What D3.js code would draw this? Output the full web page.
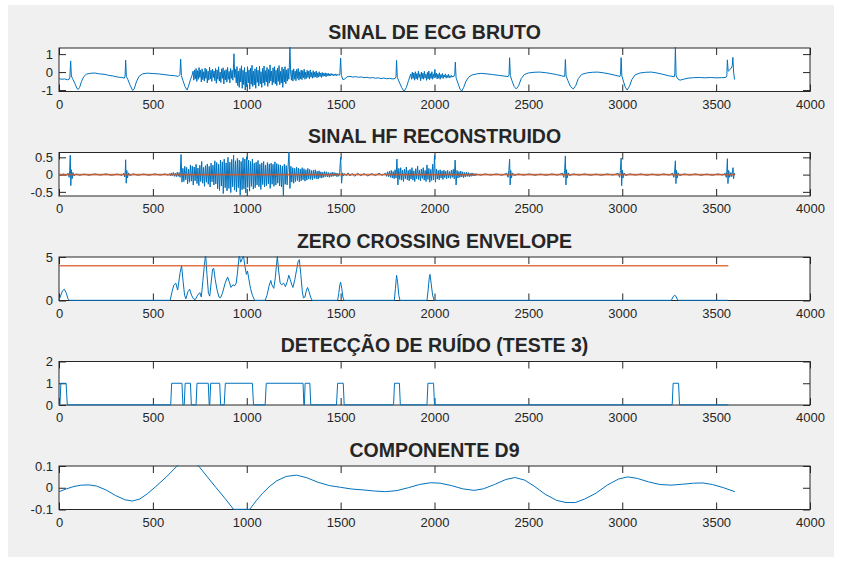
<!DOCTYPE html>
<html>
<head>
<meta charset="utf-8">
<script src="https://cdn.jsdelivr.net/npm/d3@7"></script>
<style>
  body { margin: 0; background: #fff; }
  svg text { font-family: "Liberation Sans", Arial, Helvetica, sans-serif; fill: #262626; }
</style>
</head>
<body>
<svg id="chart" width="842" height="562"></svg>
<script>
// ---------- data ----------
const sampleTicks = [0, 500, 1000, 1500, 2000, 2500, 3000, 3500, 4000];
const titles = ["SINAL DE ECG BRUTO", "SINAL HF RECONSTRUIDO", "ZERO CROSSING ENVELOPE",
                "DETECÇÃO DE RUÍDO (TESTE 3)", "COMPONENTE D9"];

// raw ECG: beats and quiet stretches as [sample, mV]
const ecgBeats = [
  [0,-0.36],[15,-0.4],[30,-0.38],[45,-0.43],[54,-0.4],[58,-0.28],[62,0.62],[66,-0.22],[72,-0.36],[84,-0.62],[96,-0.92],[103,-0.96],[110,-0.85],[120,-0.52],[132,-0.25],[145,-0.12],[165,-0.07],[190,-0.05],[215,-0.1],[240,-0.12],[265,-0.18],[290,-0.22],[315,-0.28],[335,-0.3],[348,-0.34],
  [352,-0.22],[355,0.66],[359,-0.25],[367,-0.42],[380,-0.76],[392,-1.02],[400,-0.95],[412,-0.55],[426,-0.24],[445,-0.1],[470,-0.06],[500,-0.08],[530,-0.1],[560,-0.14],[590,-0.18],[615,-0.2],[635,-0.24],
  [644,-0.14],[648,0.72],[652,-0.2],[660,-0.46],[671,-0.8],[682,-1.0],[690,-0.78],[700,-0.42],[708,-0.2],
  [928,-0.05],[932,1.02],[936,-0.3],
  [1226,0.05],[1230,1.38],[1234,-0.05],
  [1496,-0.08],[1500,0.78],[1504,-0.18],[1512,-0.42],[1522,-0.38],[1535,-0.26],[1550,-0.24],[1565,-0.28],[1580,-0.25],[1595,-0.29],[1610,-0.27],[1625,-0.31],[1640,-0.29],[1655,-0.33],[1670,-0.3],[1685,-0.34],[1700,-0.32],[1715,-0.36],[1730,-0.33],[1745,-0.37],[1760,-0.35],[1775,-0.38],[1790,-0.36],
  [1795,-0.25],[1798,0.65],[1802,-0.3],[1812,-0.55],[1825,-0.86],[1838,-1.07],[1850,-0.86],[1862,-0.46],[1870,-0.22],
  [2104,-0.24],[2108,-0.12],[2111,0.56],[2115,-0.32],[2125,-0.62],[2136,-0.95],[2145,-1.06],[2155,-0.86],[2168,-0.5],[2182,-0.28],[2200,-0.16],[2225,-0.1],[2250,-0.07],[2280,-0.1],[2310,-0.14],[2340,-0.18],[2370,-0.22],[2392,-0.25],
  [2397,-0.15],[2400,0.8],[2404,-0.2],[2412,-0.46],[2424,-0.8],[2436,-0.94],[2448,-0.76],[2462,-0.36],[2478,-0.14],[2500,-0.05],[2530,-0.01],[2560,0.0],[2590,-0.03],[2620,-0.08],[2650,-0.14],[2675,-0.2],[2692,-0.25],
  [2694,-0.15],[2697,0.7],[2701,-0.22],[2710,-0.46],[2724,-0.8],[2739,-0.94],[2752,-0.76],[2766,-0.36],[2784,-0.13],[2810,-0.05],[2840,-0.01],[2870,0.0],[2900,-0.04],[2930,-0.1],[2960,-0.17],[2988,-0.24],
  [2991,-0.14],[2994,0.8],[2998,-0.22],[3006,-0.5],[3016,-0.84],[3026,-1.0],[3038,-0.8],[3052,-0.4],[3068,-0.16],[3095,-0.05],[3125,-0.01],[3155,0.0],[3185,-0.05],[3215,-0.12],[3245,-0.2],[3277,-0.26],
  [3280,-0.1],[3283,1.38],[3287,-0.22],[3296,-0.38],[3308,-0.45],[3325,-0.4],[3350,-0.34],[3380,-0.31],[3410,-0.3],[3440,-0.32],[3470,-0.3],[3500,-0.32],[3530,-0.31],[3552,-0.3],[3557,-0.2],[3560,0.68],[3564,0.05],[3572,0.12],[3580,0.22],[3586,0.35],[3589,0.82],[3593,0.0],[3598,-0.4],[3600,-0.42]
];

// raw ECG: noisy stretches, one value every 4 samples
const ecgNoiseA = [ // from sample 714
  0.05,-0.45,0.12,-0.38,0.2,-0.52,0.08,-0.4,0.25,-0.3,
  0.1,-0.55,0.18,-0.42,0.02,-0.5,0.22,-0.35,0.15,-0.6,
  0.05,-0.45,0.28,-0.38,0.1,-0.52,0.16,-0.3,0.06,-0.48,
  0.2,-0.62,0.12,-0.4,0.3,-0.5,0.0,-0.58,0.18,-0.35,
  0.24,-0.66,0.08,-0.44,0.14,-0.56,0.26,-0.4,0.04,-0.6,
  0.2,-0.35,0.1,-0.45
];
const ecgNoiseB = [ // from sample 940
  0.15,-0.6,0.3,-0.75,0.05,-0.85,0.2,-0.55,0.35,-0.9,
  0.1,-0.7,0.25,-1.0,0.0,-0.82,0.3,-0.6,0.12,-0.95,
  0.22,-0.68,0.38,-0.8,0.05,-0.72,0.18,-0.9,0.28,-0.58,
  0.1,-0.78,0.32,-0.65,0.02,-0.85,0.2,-0.6,0.34,-0.74,
  0.08,-0.55,0.26,-0.8,0.14,-0.62,0.4,-0.5,0.06,-0.72,
  0.24,-0.58,0.3,-0.66,0.1,-0.75,0.22,-0.52,0.36,-0.7,
  0.04,-0.6,0.28,-0.85,0.16,-0.55,0.3,-0.65,0.12,-0.5,
  0.2,-0.4
];
const ecgNoiseC = [ // from sample 1238
  -0.45,0.1,-0.5,0.18,-0.4,0.05,-0.48,0.15,-0.35,0.2,
  -0.45,0.02,-0.38,0.12,-0.42,0.08,-0.32,0.16,-0.4,0.0,
  -0.35,0.1,-0.3,0.05,-0.38,0.12,-0.28,-0.02,-0.34,0.08,
  -0.3,0.0,-0.26,0.06,-0.32,-0.04,-0.28,0.02,-0.25,-0.05,
  -0.3,-0.02,-0.24,-0.06,-0.22,-0.04,-0.26,-0.08,-0.2,-0.06,
  -0.22,-0.1,-0.2,-0.08,-0.18,-0.1,-0.22,-0.12,-0.19,-0.1,
  -0.2,-0.12,-0.18,-0.13,-0.17
];
const ecgNoiseD = [ // from sample 1874
  -0.1,-0.4,0.0,-0.35,-0.05,-0.45,0.02,-0.38,-0.08,-0.42,
  0.05,-0.3,-0.1,-0.48,0.0,-0.36,-0.06,-0.4,0.04,-0.33,
  -0.12,-0.46,-0.02,-0.38,0.06,-0.42,-0.08,-0.35,0.02,-0.4,
  -0.1,-0.32,0.15,-0.3,-0.05,-0.38,-0.12,-0.34,-0.04,-0.4,
  -0.14,-0.3,-0.08,-0.36,-0.16,-0.28,-0.1,-0.34,-0.18,-0.3,
  -0.12,-0.32,-0.2,-0.3,-0.18,-0.28,-0.22
];

// reconstructed high-frequency band: quiet stretches and isolated QRS spikes
const hfQuiet = [
  [0,0.01],[12,-0.02],[25,0.02],[38,-0.03],[48,0.04],[54,-0.08],[57,0.12],[60,0.56],[63,-0.32],[66,0.14],[70,-0.12],[74,0.06],[80,-0.04],[90,0.02],[110,-0.02],[135,0.015],[160,-0.02],[190,0.02],[220,-0.015],[250,0.02],[280,-0.02],[310,0.015],[335,-0.02],[345,0.04],[350,-0.07],[353,0.1],[355,0.43],[358,-0.25],[361,0.12],[365,-0.1],[370,0.05],[378,-0.03],[395,0.02],[420,-0.02],[450,0.015],[480,-0.02],[510,0.02],[540,-0.015],[565,0.02],[582,-0.02],
  [1530,-0.03],[1540,0.05],[1550,-0.04],[1562,0.03],[1575,-0.05],[1590,0.04],[1608,-0.03],[1625,0.03],[1645,-0.04],[1665,0.03],[1685,-0.03],[1705,0.04],[1722,-0.03],[1733,0.03],
  [2245,-0.02],[2270,0.02],[2300,-0.015],[2330,0.02],[2360,-0.02],[2385,0.04],[2392,-0.08],[2396,0.12],[2400,0.45],[2403,-0.3],[2406,0.12],[2410,-0.1],[2415,0.05],[2424,-0.03],[2445,0.02],[2475,-0.015],[2505,0.02],[2535,-0.02],[2565,0.015],[2595,-0.02],[2625,0.02],[2655,-0.015],
  [2682,0.04],[2689,-0.08],[2693,0.12],[2697,0.54],[2700,-0.3],[2703,0.14],[2707,-0.1],[2712,0.05],[2720,-0.03],[2740,0.02],[2770,-0.015],[2800,0.02],[2830,-0.02],[2860,0.015],[2890,-0.02],[2920,0.02],[2950,-0.015],
  [2978,0.04],[2986,-0.08],[2990,0.12],[2994,0.48],[2997,-0.32],[3000,0.13],[3004,-0.1],[3009,0.05],[3018,-0.03],[3040,0.02],[3070,-0.015],[3100,0.02],[3130,-0.02],[3160,0.015],[3190,-0.02],[3220,0.02],[3250,-0.015],
  [3268,0.04],[3275,-0.08],[3279,0.1],[3283,0.4],[3286,-0.26],[3289,0.12],[3293,-0.1],[3298,0.05],[3306,-0.03],[3330,0.02],[3360,-0.015],[3390,0.02],[3420,-0.02],[3450,0.015],[3480,-0.02],[3510,0.02],[3535,-0.015],
  [3548,0.04],[3554,-0.08],[3557,0.1],[3560,0.46],[3563,-0.26],[3567,0.12],[3572,-0.08],[3578,0.06],[3583,-0.06],[3587,0.1],[3590,0.2],[3593,-0.12],[3597,0.04],[3600,0.0]
];
// reconstructed high-frequency band: noisy stretches, one value every 5 samples
const hfNoiseA = [ // from sample 590
  0.03,-0.04,0.05,-0.03,0.06,-0.05,0.04,-0.06,0.07,-0.05,
  0.06,-0.08,0.58,-0.22,0.18,-0.2,0.24,-0.15,0.21,-0.27,
  0.16,-0.22,0.28,-0.19,0.25,-0.3,0.22,-0.18,0.3,-0.26,
  0.19,-0.32,0.27,-0.2,0.38,-0.25,0.21,-0.34,0.26,-0.22,
  0.31,-0.28,0.24,-0.36,0.33,-0.21,0.27,-0.3,0.4,-0.27,
  0.35,-0.41,0.3,-0.46,0.42,-0.33,0.37,-0.55,0.45,-0.38,
  0.34,-0.47,0.5,-0.4,0.36,-0.52,0.44,-0.35,0.56,-0.45,
  0.4,-0.5,0.47,-0.38,0.42,-0.6,0.38,-0.44,0.49,-0.41,
  0.45,-0.53,0.52,-0.37,0.42,-0.48,0.38,-0.34,0.45,-0.42,
  0.33,-0.38,0.36,-0.3,0.41,-0.35,0.3,-0.43,0.34,-0.29,
  0.38,-0.36,0.28,-0.32,0.35,-0.27,0.31,-0.4,0.33,-0.28,
  0.3,-0.34,0.37,-0.3,0.32,-0.25,0.29,-0.33,0.28,-0.36,
  0.25,-0.63,0.3,-0.28,0.26,-0.3,0.22,0.65,-0.4,0.24,
  -0.22,0.2,-0.25,0.18,-0.2,0.22,-0.17,0.19,-0.21,0.16,
  -0.18,0.2,-0.15,0.17,-0.19,0.14,-0.16,0.18,-0.13,0.15,
  -0.14,0.12,-0.15,0.13,-0.11,0.14,-0.12,0.1,-0.13,0.11,
  -0.09,0.08,-0.1,0.07,-0.08,0.09,-0.06,0.08,-0.07,0.06,
  -0.08,0.05,-0.06,0.07,-0.05,0.06,-0.04,0.05,-0.06,0.04,
  -0.05,0.06,0.5,-0.25,0.05,-0.04,0.03
];
const hfNoiseB = [ // from sample 1740
  0.04,-0.05,0.08,-0.06,0.1,-0.08,0.12,-0.1,0.09,-0.12,
  0.14,-0.1,0.45,-0.3,0.18,-0.14,0.2,-0.16,0.13,-0.2,
  0.16,-0.12,0.22,-0.15,0.12,-0.18,0.15,-0.13,0.2,-0.16,
  0.11,-0.2,0.17,-0.12,0.25,-0.14,0.13,-0.18,0.16,-0.11,
  0.2,-0.16,0.12,-0.2,0.28,-0.14,0.18,-0.22,0.15,-0.17,
  0.3,-0.15,0.55,-0.22,0.16,-0.13,0.12,-0.15,0.14,-0.1,
  0.11,-0.14,0.13,-0.09,0.1,-0.12,0.12,-0.1,0.09,-0.11,
  0.13,-0.08,0.15,-0.12,0.42,-0.3,0.12,-0.1,0.09,-0.08,
  0.1,-0.07,0.08,-0.09,0.06,-0.07,0.07,-0.05,0.06,-0.06,
  0.04,-0.05,0.05,-0.04,0.03,-0.04,0.03,-0.02,0.01
];
const hfThreshold = [[0, 0], [3600, 0]];

// zero-crossing envelope and its threshold
const zcEnvelope = [
  [0,0],[8,0.5],[18,1.1],[28,1.3],[38,0.9],[48,0.2],[56,0],[592,0],[602,1.0],[612,1.8],[622,2.0],[632,1.2],[645,3.2],[653,4.0],[661,2.2],[669,0.6],[676,0.2],[686,1.0],[696,1.3],[706,0.6],[716,0.2],[726,0.1],[738,0.6],[750,0.9],[758,0.4],[766,2.2],[774,4.0],[781,5.3],[788,3.0],[796,0.8],[803,0.5],[810,2.0],[818,3.6],[824,3.7],[832,2.4],[842,1.2],[852,0.4],[860,0.3],[870,0.8],[885,2.0],[898,2.7],[906,2.2],[916,1.5],[926,1.8],[936,1.7],[944,2.0],[952,3.5],[960,5.2],[968,4.4],[976,4.8],[982,5.2],[990,4.0],[998,3.0],[1004,3.4],[1010,2.6],[1020,1.4],[1030,0.6],[1040,0.1],[1046,0],
  [1098,0],[1108,0.6],[1118,1.6],[1128,2.3],[1134,1.8],[1144,1.4],[1152,2.6],[1158,4.0],[1163,5.1],[1170,3.4],[1178,2.0],[1186,1.8],[1196,2.0],[1206,1.6],[1216,2.2],[1224,2.9],[1232,2.4],[1240,1.8],[1246,1.5],[1256,2.4],[1266,3.6],[1274,4.5],[1280,4.7],[1288,3.0],[1296,1.0],[1302,0.3],[1310,0.4],[1318,1.2],[1324,1.5],[1332,1.0],[1340,0.4],[1348,0],
  [1484,0],[1490,0.8],[1496,1.8],[1500,2.1],[1506,1.4],[1512,0.4],[1518,0],[1786,0],[1792,1.4],[1798,2.9],[1804,2.0],[1810,0.6],[1816,0],[1960,0],[1966,1.2],[1972,2.6],[1976,3.0],[1982,2.0],[1990,0.6],[1998,0],[3262,0],[3270,0.4],[3278,0.6],[3286,0.5],[3294,0.1],[3300,0],[3565,0]
];
const zcThreshold = [[0, 4], [3565, 4]];

// noise flag (test 3): 1 = noisy segment
const noiseFlag = [
  [0,0],[5,0],[10,1],[38,1],[44,0],[595,0],[600,1],[655,1],[660,0],[667,0],[672,1],[700,1],[705,0],[730,0],[735,1],[795,1],[800,0],[803,0],[808,1],[856,1],[861,0],[880,0],[886,1],[1030,1],[1036,0],[1098,0],[1104,1],[1300,1],[1304,0],[1307,0],[1311,1],[1336,1],[1341,0],[1478,0],[1484,1],[1514,1],[1519,0],[1782,0],[1787,1],[1813,1],[1818,0],[1960,0],[1965,1],[1995,1],[2000,0],[3266,0],[3271,1],[3300,1],[3305,0],[3565,0]
];

// wavelet detail D9
const d9Component = [
  [0,-0.018],[40,-0.005],[80,0.006],[120,0.012],[160,0.013],[200,0.008],[250,-0.01],[300,-0.035],[350,-0.055],[390,-0.061],[430,-0.052],[470,-0.028],[515,0.005],[572,0.05],[629,0.1],[660,0.125],[690,0.135],[715,0.125],[744,0.1],[790,0.05],[837,0.0],[885,-0.05],[930,-0.1],[955,-0.125],[975,-0.13],[995,-0.122],[1016,-0.1],[1050,-0.06],[1085,-0.025],[1120,0.005],[1160,0.032],[1210,0.052],[1265,0.058],[1320,0.046],[1380,0.025],[1440,0.01],[1500,0.002],[1560,-0.006],[1620,-0.01],[1680,-0.015],[1740,-0.018],[1800,-0.013],[1860,0.0],[1920,0.015],[1980,0.023],[2030,0.021],[2090,0.01],[2150,-0.005],[2210,-0.012],[2260,-0.005],[2320,0.015],[2380,0.038],[2430,0.047],[2480,0.035],[2530,0.008],[2590,-0.03],[2650,-0.058],[2700,-0.068],[2750,-0.068],[2800,-0.052],[2860,-0.025],[2920,0.012],[2980,0.04],[3030,0.05],[3080,0.043],[3140,0.027],[3200,0.015],[3260,0.012],[3320,0.016],[3380,0.021],[3430,0.022],[3480,0.015],[3540,0.0],[3600,-0.018]
];

// ---------- assemble series ----------
function withBursts(pairs, bursts) {
  const extra = bursts.flatMap(b => b.values.map((v, i) => [b.start + i * b.step, v]));
  return pairs.concat(extra).sort((a, b) => a[0] - b[0]);
}
const ecgRaw = withBursts(ecgBeats, [
  { start: 714, step: 4, values: ecgNoiseA },
  { start: 940, step: 4, values: ecgNoiseB },
  { start: 1238, step: 4, values: ecgNoiseC },
  { start: 1874, step: 4, values: ecgNoiseD }
]);
const hfSignal = withBursts(hfQuiet, [
  { start: 590, step: 5, values: hfNoiseA },
  { start: 1740, step: 5, values: hfNoiseB }
]);

// ---------- drawing ----------
const BLUE = "#0072BD", ORANGE = "#D95319";
const svg = d3.select("#chart");
svg.append("rect").attr("x", 8).attr("y", 5).attr("width", 826).attr("height", 552).attr("fill", "#f0f0f0");

const left = 59, right = 810, plotH = 43.5, firstTop = 48, pitch = 104.5;
const x = d3.scaleLinear().domain([0, 4000]).range([left, right]);

const panels = [
  { domain: [-1.08, 1.34], ticks: [-1, 0, 1], series: [{ data: ecgRaw, color: BLUE }] },
  { domain: [-0.62, 0.64], ticks: [-0.5, 0, 0.5], series: [{ data: hfSignal, color: BLUE }, { data: hfThreshold, color: ORANGE, w: 1.6 }] },
  { domain: [0, 5], ticks: [0, 5], series: [{ data: zcEnvelope, color: BLUE }, { data: zcThreshold, color: ORANGE, w: 1.6 }] },
  { domain: [0, 2], ticks: [0, 1, 2], series: [{ data: noiseFlag, color: BLUE }] },
  { domain: [-0.1, 0.1], ticks: [-0.1, 0, 0.1], series: [{ data: d9Component, color: BLUE }] }
];

panels.forEach((p, i) => {
  const top = firstTop + i * pitch, bottom = top + plotH;
  const y = d3.scaleLinear().domain(p.domain).range([bottom, top]);
  const g = svg.append("g");

  // axes background, box and ticks sit underneath the data (axes layer "bottom")
  g.append("rect").attr("x", left).attr("y", top).attr("width", right - left).attr("height", plotH).attr("fill", "#fff");

  const fmt = d => String(d);
  const axB = g.append("g").attr("transform", `translate(0,${bottom})`)
    .call(d3.axisBottom(x).tickValues(sampleTicks).tickSize(-7).tickPadding(8).tickFormat(d3.format("d")));
  const axT = g.append("g").attr("transform", `translate(0,${top})`)
    .call(d3.axisTop(x).tickValues(sampleTicks).tickSize(-7).tickFormat(""));
  const axL = g.append("g").attr("transform", `translate(${left},0)`)
    .call(d3.axisLeft(y).tickValues(p.ticks).tickSize(-7).tickPadding(6).tickFormat(fmt));
  const axR = g.append("g").attr("transform", `translate(${right},0)`)
    .call(d3.axisRight(y).tickValues(p.ticks).tickSize(-7).tickFormat(""));
  [axB, axT, axL, axR].forEach(a => {
    a.select(".domain").remove();
    a.selectAll(".tick line").attr("stroke", "#262626");
    a.selectAll("text").attr("font-size", 13).attr("fill", "#262626")
      .attr("font-family", '"Liberation Sans", Arial, sans-serif');
  });

  g.append("rect").attr("x", left).attr("y", top).attr("width", right - left).attr("height", plotH)
    .attr("fill", "none").attr("stroke", "#262626").attr("stroke-width", 1);

  // data clipped to the axes limits, with room for the stroke width
  const clipId = "clip" + i;
  svg.append("clipPath").attr("id", clipId)
    .append("rect").attr("x", left - 1).attr("y", top - 1).attr("width", right - left + 2).attr("height", plotH + 2);

  const line = d3.line().x(d => x(d[0])).y(d => y(Math.max(p.domain[0] + 0.004 * (p.domain[1] - p.domain[0]), d[1])));
  p.series.forEach(s => {
    g.append("path").attr("d", line(s.data)).attr("clip-path", `url(#${clipId})`)
      .attr("fill", "none").attr("stroke", s.color).attr("stroke-width", s.w || 1)
      .attr("stroke-linejoin", "round").attr("opacity", s.color === ORANGE ? 0.8 : 1);
  });

  g.append("text").attr("x", (left + right) / 2).attr("y", top - 9.5)
    .attr("text-anchor", "middle").attr("font-weight", "bold").attr("font-size", 19.5)
    .text(titles[i]);
});
</script>
</body>
</html>
